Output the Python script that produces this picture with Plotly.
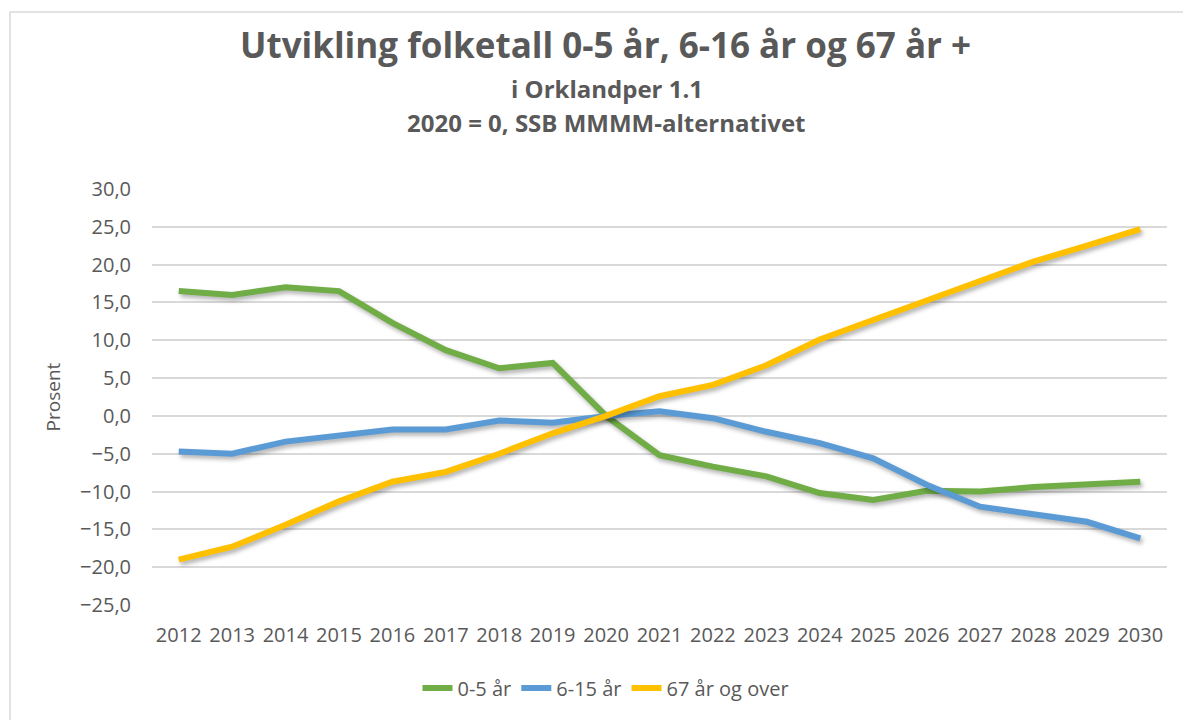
import plotly.graph_objects as go

years = [str(y) for y in range(2012, 2031)]
age_0_5 = [16.5, 16.0, 17.0, 16.5, 12.3, 8.7, 6.3, 7.0, 0.0, -5.2, -6.7, -8.0, -10.2, -11.1, -9.9, -10.0, -9.4, -9.0, -8.7]
age_6_15 = [-4.7, -5.0, -3.4, -2.5, -1.8, -1.8, -0.6, -0.9, 0.0, 0.6, -0.3, -2.1, -3.6, -5.6, -9.1, -12.0, -12.9, -14.0, -16.2]
age_67 = [-19.0, -17.3, -14.4, -11.3, -8.7, -7.4, -5.0, -2.3, 0.0, 2.6, 4.1, 6.7, 10.1, 12.7, 15.3, 17.8, 20.4, 22.5, 24.7]
y_ticks = [-25, -20, -15, -10, -5, 0, 5, 10, 15, 20, 25, 30]

series = [
    ("0-5 år", age_0_5, "#70AD47"),
    ("6-15 år", age_6_15, "#5B9BD5"),
    ("67 år og over", age_67, "#FFC000"),
]

FONT = "Open Sans"
GREY = "#595959"

fig = go.Figure()
for name, vals, col in series:
    fig.add_trace(go.Scatter(
        x=years, y=vals, name=name, mode="lines",
        line=dict(color=col, width=6),
    ))

W, H = 1183, 720
L, R, T, B = 152, 16, 189, 115
pw, ph = W - L - R, H - T - B

def px_x(x):
    return (x - L) / pw

def px_y(y):
    return (H - B - y) / ph

fig.update_layout(
    width=W, height=H,
    margin=dict(l=L, r=R, t=T, b=B),
    paper_bgcolor="white", plot_bgcolor="white",
    separators=", ",
    font=dict(family=FONT, color=GREY, size=20),
    showlegend=True,
    legend=dict(orientation="h", x=px_x(606), xanchor="center", y=px_y(688), yanchor="middle",
                font=dict(size=20, color=GREY), itemwidth=30,
                traceorder="normal"),
    xaxis=dict(type="category", range=[-0.5, 18.5], showgrid=False, zeroline=False,
               showline=False, ticks="", tickfont=dict(size=20, color=GREY),
               tickangle=0, ticklabelstandoff=16),
    yaxis=dict(range=[-25, 30], tickvals=y_ticks, tickformat=".1f",
               showgrid=True, gridcolor="#D9D9D9", gridwidth=1.5, zeroline=False,
               showline=False, ticks="", ticklen=0, tickfont=dict(size=20, color=GREY),
               ticklabelstandoff=20,
               title=dict(text="Prosent", font=dict(size=19, color=GREY), standoff=14)),
    annotations=[
        dict(text="<b>Utvikling folketall 0-5 år, 6-16 år og 67 år +</b>", xref="paper", yref="paper",
             x=px_x(605), y=px_y(45), xanchor="center", yanchor="middle", showarrow=False,
             font=dict(size=35, color=GREY, family=FONT)),
        dict(text="<b>i Orklandper 1.1</b>", xref="paper", yref="paper",
             x=px_x(607), y=px_y(88), xanchor="center", yanchor="middle", showarrow=False,
             font=dict(size=24, color=GREY, family=FONT)),
        dict(text="<b>2020 = 0, SSB MMMM-alternativet</b>", xref="paper", yref="paper",
             x=px_x(606), y=px_y(123), xanchor="center", yanchor="middle", showarrow=False,
             font=dict(size=24, color=GREY, family=FONT)),
    ],
    shapes=[
        dict(type="rect", xref="paper", yref="paper",
             x0=px_x(10), x1=px_x(1200), y0=px_y(740), y1=px_y(12),
             line=dict(color="#D9D9D9", width=1.5), fillcolor="rgba(0,0,0,0)", layer="below"),
    ],
)

post = """
document.body.style.margin = '0';
document.body.style.overflow = 'hidden';
document.querySelectorAll('.scatterlayer .trace path.js-line').forEach(function(p){
  p.style.filter = 'drop-shadow(2px 3px 2px rgba(0,0,0,0.3))';
});
"""

fig.write_html("out.html", post_script=post, config={"displayModeBar": False})
